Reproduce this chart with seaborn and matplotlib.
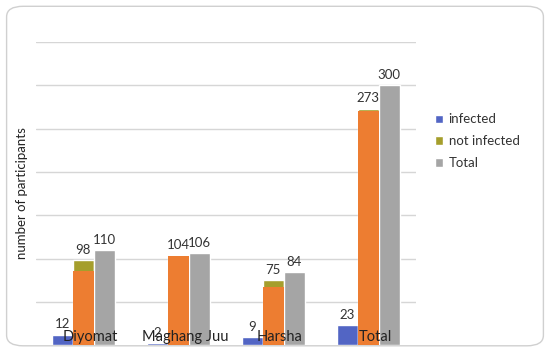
"""
Grouped bar chart: infection status by location
"""

import numpy as np
import pandas as pd
import matplotlib.pyplot as plt
import seaborn as sns
from matplotlib.patches import FancyBboxPatch

# data
locations = ['Diyomat', 'Maghang Juu', 'Harsha', 'Total']
infected = [12, 2, 9, 23]
not_infected = [98, 104, 75, 273]
total = [110, 106, 84, 300]
# visible orange part of the "not infected" bars (olive cap above it)
not_infected_orange = [85, 103, 67, 270]

series = ['infected', 'not infected', 'Total']

df = pd.DataFrame({
    'location': locations * 3,
    'series': ['infected'] * 4 + ['not infected'] * 4 + ['Total'] * 4,
    'value': infected + not_infected + total,
})

sns.set_style('white')
plt.rcParams['font.family'] = ['Lato', 'DejaVu Sans']

fig = plt.figure(figsize=(5.5, 3.5), dpi=100)
ax = fig.add_axes([0.065, 0.014, 0.691, 0.866])

palette = {'infected': '#5265C4', 'not infected': '#A59E2C', 'Total': '#A5A5A5'}
sns.barplot(data=df, x='location', y='value', hue='series', hue_order=series,
            order=locations, palette=palette, width=0.66, gap=0,
            saturation=1, ax=ax, legend=True, errorbar=None)
bars_main = list(ax.patches)

# orange body of the "not infected" bars, drawn over the olive ones
ni_bars = bars_main[4:8]
ax.bar([b.get_x() + b.get_width() / 2 for b in ni_bars], not_infected_orange,
       width=ni_bars[0].get_width(), color='#ED7D31', linewidth=0, zorder=3)

# value labels on top of full bars
for bar in bars_main:
    h = bar.get_height()
    if np.isnan(h) or h == 0:
        continue
    ax.text(bar.get_x() + bar.get_width() / 2, h + 5, f'{int(h)}',
            ha='center', va='bottom', fontsize=9.5, color='#333333', zorder=5)

# category names inside the plot, near the bottom
for i, loc in enumerate(locations):
    ax.text(i + 0.07, 1, loc, ha='center', va='bottom', fontsize=10.5,
            color='#222222', zorder=6)

ax.set_ylim(0, 350)
ax.set_xlim(-0.5, 3.5)
ax.set_yticks(np.arange(50, 351, 50))
ax.set_yticklabels([])
ax.set_xticks([])
ax.set_xlabel('')
ax.set_ylabel('number of participants', fontsize=9.5, color='#222222', labelpad=2)
ax.grid(axis='y', color='#D6D6D6', linewidth=1)
ax.set_axisbelow(True)
for s in ax.spines.values():
    s.set_visible(False)
ax.tick_params(length=0)

leg = ax.legend(loc='upper left', bbox_to_anchor=(0.77, 0.71),
                bbox_transform=fig.transFigure, frameon=False, fontsize=9.5,
                handlelength=0.6, handleheight=0.6, handletextpad=0.4,
                labelspacing=0.75, title=None)
for t in leg.get_texts():
    t.set_color('#333333')

# rounded frame around the whole picture
frame = FancyBboxPatch((0.012, 0.012), 0.976, 0.97,
                       boxstyle='round,pad=0,rounding_size=0.03',
                       transform=fig.transFigure, fill=False,
                       edgecolor='#D0D0D0', linewidth=1, zorder=0)
fig.patches.append(frame)

plt.savefig('out.png', dpi=100)
plt.close()
